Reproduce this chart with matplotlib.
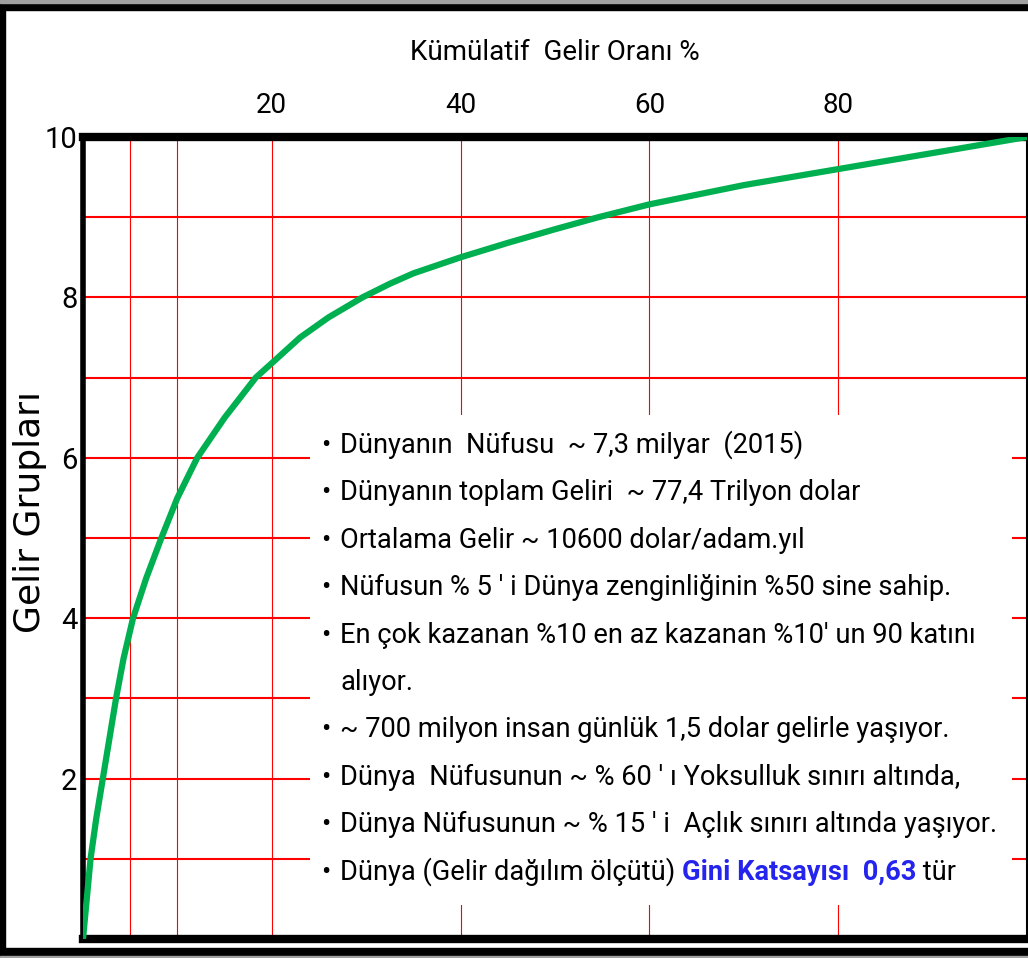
import matplotlib
matplotlib.use("Agg")
import matplotlib.pyplot as plt
from matplotlib.patches import Rectangle

# cumulative income share (%) vs income group
income_share = [0, 0.8, 1.4, 2.1, 2.8, 3.5, 4.3, 5.3, 6.7, 8.3, 10, 12.1, 15,
                18.3, 20, 23, 26, 29.6, 32.5, 35, 40, 45, 50, 54.6, 60, 65,
                70, 75, 80, 85, 90, 95, 100]
income_group = [0, 1, 1.5, 2, 2.5, 3, 3.5, 4, 4.5, 5, 5.5, 6, 6.5,
                7, 7.18, 7.5, 7.75, 8, 8.17, 8.3, 8.5, 8.68, 8.85, 9, 9.16, 9.28,
                9.4, 9.5, 9.6, 9.7, 9.8, 9.9, 10]

x_ticks = [20, 40, 60, 80]
x_grid = [5, 10, 20, 40, 60, 80]
y_ticks = [2, 4, 6, 8, 10]
y_grid = [1, 2, 3, 4, 5, 6, 7, 8, 9]

x_title = "Kümülatif  Gelir Oranı %"
y_title = "Gelir Grupları"

notes = [
    ("•", "Dünyanın  Nüfusu  ~ 7,3 milyar  (2015)"),
    ("•", "Dünyanın toplam Geliri  ~ 77,4 Trilyon dolar"),
    ("•", "Ortalama Gelir ~ 10600 dolar/adam.yıl"),
    ("•", "Nüfusun % 5 ′ i Dünya zenginliğinin %50 sine sahip."),
    ("•", "En çok kazanan %10 en az kazanan %10′ un 90 katını"),
    ("", "alıyor."),
    ("•", "~ 700 milyon insan günlük 1,5 dolar gelirle yaşıyor."),
    ("•", "Dünya  Nüfusunun ~ % 60 ′ ı Yoksulluk sınırı altında,"),
    ("•", "Dünya Nüfusunun ~ % 15 ′ i  Açlık sınırı altında yaşıyor."),
]
gini_parts = ["Dünya (Gelir dağılım ölçütü) ", "Gini Katsayısı  0,63", " tür"]

plt.rcParams["font.family"] = ["Roboto", "DejaVu Sans"]
NOTE_SIZE = 19.6

W, H = 1028, 958
fig = plt.figure(figsize=(W / 100, H / 100), dpi=100)
ax = fig.add_axes([83 / W, 1 - 939 / H, (1027 - 83) / W, (939 - 137) / H])
ax.set_xlim(0, 100)
ax.set_ylim(0, 10)

for gx in x_grid:
    ax.axvline(gx, color="#ff0000", lw=0.8, zorder=1)
for gy in y_grid:
    ax.axhline(gy, color="#ff0000", lw=1.5, zorder=1)

# white panel behind the notes hides the grid
ax.add_patch(Rectangle((0.2405, 0.042), 0.7435, 0.611, transform=ax.transAxes,
                       facecolor="white", edgecolor="none", zorder=2))

ax.plot(income_share, income_group, color="#00b050", lw=4.5, zorder=3,
        solid_capstyle="round", solid_joinstyle="round")

ax.spines["top"].set_linewidth(6)
ax.spines["bottom"].set_linewidth(6)
ax.spines["left"].set_linewidth(4)
ax.spines["right"].set_linewidth(1.5)

ax.xaxis.tick_top()
ax.set_xticks(x_ticks)
ax.set_yticks(y_ticks)
ax.tick_params(axis="x", length=0, pad=13, labelsize=20)
ax.tick_params(axis="y", length=0, pad=4, labelsize=21)
ax.xaxis.set_label_position("top")
ax.set_xlabel(x_title, fontsize=20, labelpad=23)

fig.text(30 / W, 1 - 512 / H, y_title, rotation=90, ha="center", va="center",
         fontsize=26, family="DejaVu Sans")

# notes
y0, step = 453, 47.4
for i, (bullet, line) in enumerate(notes):
    yb = 1 - (y0 + i * step) / H
    if bullet:
        fig.text(321 / W, yb, bullet, fontsize=20, va="baseline", zorder=5)
    fig.text(340 / W, yb, line, fontsize=NOTE_SIZE, va="baseline", zorder=5)

yb = 1 - (y0 + len(notes) * step) / H
fig.text(321 / W, yb, "•", fontsize=20, va="baseline", zorder=5)
t1 = fig.text(340 / W, yb, gini_parts[0], fontsize=NOTE_SIZE, va="baseline", zorder=5)
t2 = ax.annotate(gini_parts[1], xy=(1, 0), xycoords=t1, fontsize=NOTE_SIZE,
                 weight="bold", color="#2424ee", va="bottom", annotation_clip=False)
t3 = ax.annotate(gini_parts[2], xy=(1, 0), xycoords=t2, fontsize=NOTE_SIZE,
                 va="bottom", annotation_clip=False)

# outer frame of the slide
fig.add_artist(Rectangle((0, 0), 5 / W, 1, transform=fig.transFigure, color="black"))
fig.add_artist(Rectangle((0, 1 - 10 / H), 1, 7 / H, transform=fig.transFigure, color="black"))
fig.add_artist(Rectangle((0, 1 - 3 / H), 1, 3 / H, transform=fig.transFigure, color="#a0a0a0"))
fig.add_artist(Rectangle((0, 2 / H), 1, 8 / H, transform=fig.transFigure, color="black"))
fig.add_artist(Rectangle((0, 0), 1, 2 / H, transform=fig.transFigure, color="#a0a0a0"))

fig.savefig("out.png", dpi=100, facecolor="white")
